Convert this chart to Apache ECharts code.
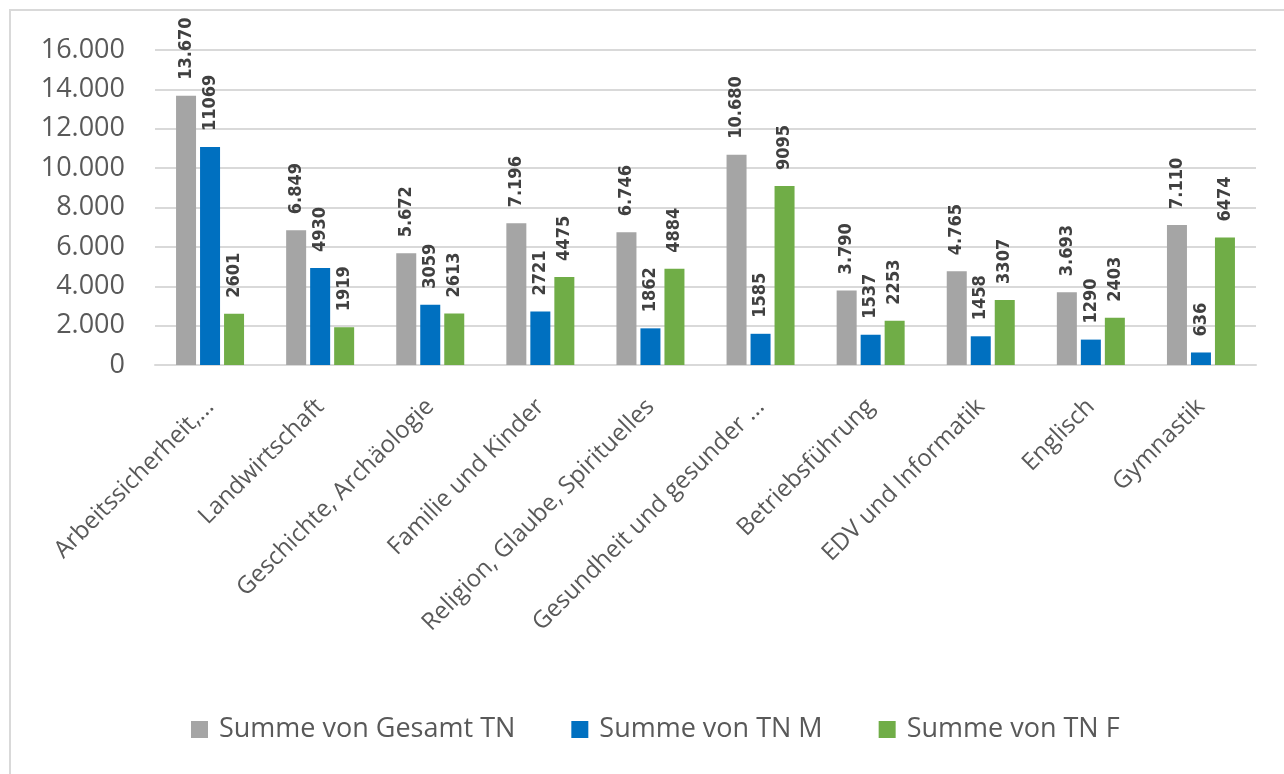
<!DOCTYPE html>
<html>
<head>
<meta charset="utf-8">
<script src="https://cdn.jsdelivr.net/npm/echarts@6/dist/echarts.min.js"></script>
<style>
  html, body { margin: 0; padding: 0; background: #fff; }
  .frame {
    position: absolute; left: 9px; top: 9px; width: 1300px; height: 800px;
    border-top: 2px solid #d9d9d9; border-left: 2px solid #d9d9d9;
  }
  #chart { position: absolute; left: 0; top: 0; width: 1284px; height: 774px; }
</style>
</head>
<body>
<div class="frame"></div>
<div id="chart"></div>
<script>
const categories = [
  "Arbeitssicherheit,...",
  "Landwirtschaft",
  "Geschichte, Archäologie",
  "Familie und Kinder",
  "Religion, Glaube, Spirituelles",
  "Gesundheit und gesunder ...",
  "Betriebsführung",
  "EDV und Informatik",
  "Englisch",
  "Gymnastik"
];
const gesamtTN = [13670, 6849, 5672, 7196, 6746, 10680, 3790, 4765, 3693, 7110];
const tnM = [11069, 4930, 3059, 2721, 1862, 1585, 1537, 1458, 1290, 636];
const tnF = [2601, 1919, 2613, 4475, 4884, 9095, 2253, 3307, 2403, 6474];

const fontFamily = "'Open Sans', 'Liberation Sans', sans-serif";
const de = (v) => v.toLocaleString("de-DE");

// rotated value labels above the bars
const labelStyle = (fmt) => ({
  show: true,
  position: "top",
  rotate: 90,
  align: "left",
  verticalAlign: "middle",
  distance: 16,
  color: "#404040",
  fontWeight: "bold",
  fontSize: 18,
  fontFamily: "'DejaVu Sans Condensed', 'DejaVu Sans', sans-serif",
  formatter: (p) => fmt(p.value)
});

const myChart = echarts.init(document.getElementById("chart"));

myChart.setOption({
  animation: false,
  textStyle: { fontFamily },
  grid: {
    left: 155,
    right: 28,
    top: 50,
    bottom: 409,
    containLabel: false
  },
  legend: {
    top: 711,
    left: 186,
    itemWidth: 17,
    itemHeight: 17,
    itemGap: 56,
    icon: "rect",
    textStyle: {
      color: "#595959",
      fontSize: 27,
      fontFamily,
      padding: [0, 0, 0, 6]
    }
  },
  xAxis: {
    type: "category",
    data: categories,
    axisLine: { lineStyle: { color: "#d9d9d9", width: 2 } },
    axisTick: { show: false },
    axisLabel: {
      rotate: 45,
      interval: 0,
      color: "#595959",
      fontSize: 24,
      margin: 38,
      fontFamily
    }
  },
  yAxis: {
    type: "value",
    min: 0,
    max: 16000,
    interval: 2000,
    axisLine: { show: false },
    axisTick: { show: false },
    splitLine: { lineStyle: { color: "#d9d9d9", width: 2 } },
    axisLabel: {
      color: "#595959",
      fontSize: 27,
      margin: 30,
      fontFamily,
      formatter: (v) => de(v)
    }
  },
  series: [
    {
      name: "Summe von Gesamt TN",
      type: "bar",
      data: gesamtTN,
      barWidth: 20,
      barGap: "20%",
      itemStyle: { color: "#a5a5a5" },
      label: labelStyle(de)
    },
    {
      name: "Summe von TN M",
      type: "bar",
      data: tnM,
      barWidth: 20,
      barGap: "20%",
      itemStyle: { color: "#0070c0" },
      label: labelStyle((v) => String(v))
    },
    {
      name: "Summe von TN F",
      type: "bar",
      data: tnF,
      barWidth: 20,
      barGap: "20%",
      itemStyle: { color: "#70ad47" },
      label: labelStyle((v) => String(v))
    }
  ]
});
</script>
</body>
</html>
